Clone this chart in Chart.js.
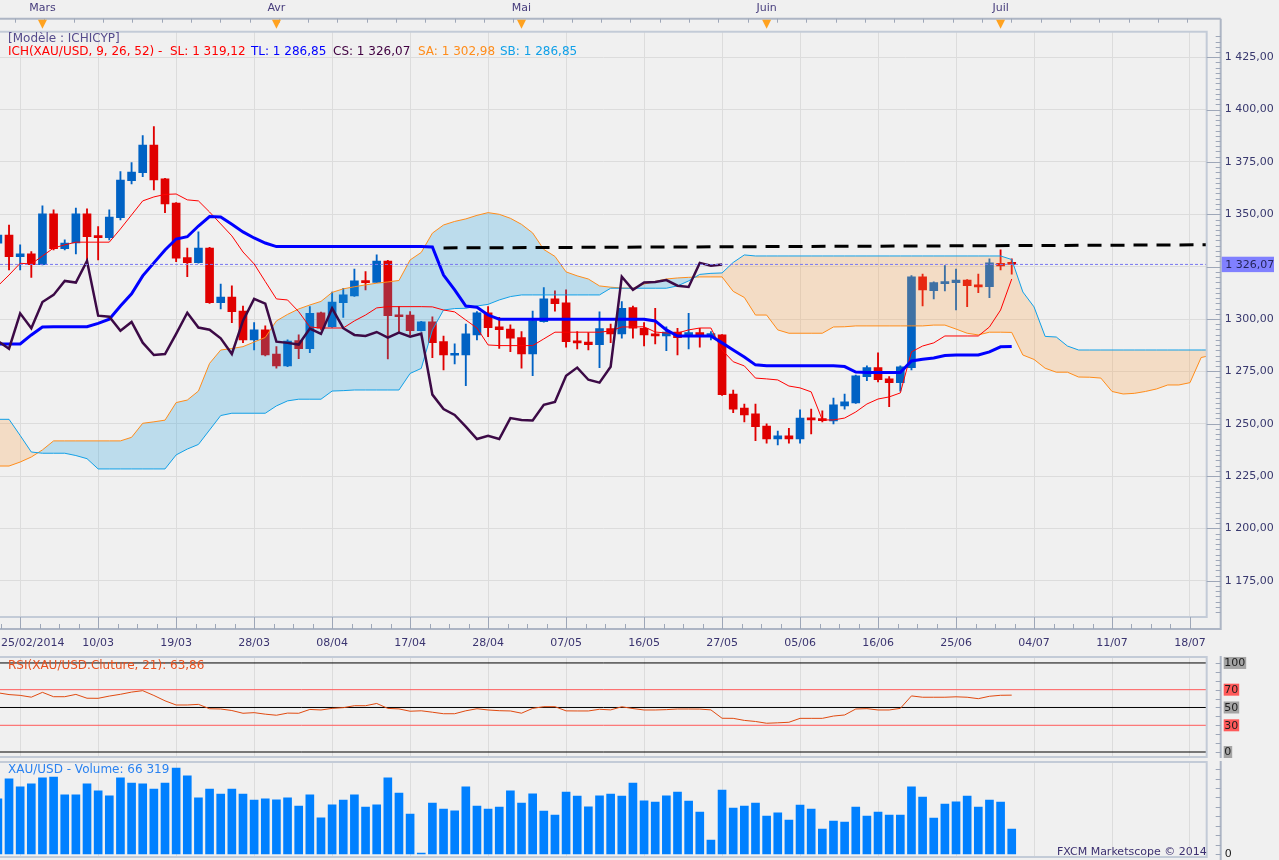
<!DOCTYPE html>
<html><head><meta charset="utf-8">
<script src="https://cdn.jsdelivr.net/npm/chart.js@4.4.1/dist/chart.umd.min.js"></script>
<style>
html,body{margin:0;padding:0;background:#f0f0f0;width:1279px;height:860px;overflow:hidden}
canvas{position:absolute;left:0}
</style></head><body>
<canvas id="main" style="top:0;width:1279px;height:655px" width="1279" height="655"></canvas>
<canvas id="rsi" style="top:655px;width:1279px;height:104px" width="1279" height="104"></canvas>
<canvas id="vol" style="top:759px;width:1279px;height:101px" width="1279" height="101"></canvas>
<script>
// ---------- data (bar index 0 = 25/02/2014, 91 = 02/07/2014) ----------
const dateIdx = [0, 9, 16, 23, 30, 37, 44, 51, 58, 65, 72, 79, 86, 93, 100, 107];
const dateLabels = ['25/02/2014','10/03','19/03','28/03','08/04','17/04','28/04','07/05','16/05','27/05','05/06','16/06','25/06','04/07','11/07','18/07'];
const gridIdx = [2, 9, 16, 23, 30, 37, 44, 51, 58, 65, 72, 79, 86, 93, 100, 107];
const monthIdx = [4, 25, 47, 69, 90];
const monthLabels = ['Mars', 'Avr', 'Mai', 'Juin', 'Juil'];

const opens = [1336.2,1340.1,1329.8,1331.1,1326.0,1350.2,1333.6,1336.3,1350.2,1339.8,
 1338.8,1348.4,1366.1,1369.9,1383.1,1366.9,1355.4,1329.3,1326.9,1333.9,
 1307.8,1310.5,1303.8,1290.0,1294.8,1283.3,1277.6,1289.7,1285.8,1303.0,
 1296.3,1307.8,1311.0,1318.3,1317.5,1327.7,1301.9,1301.9,1294.4,1298.6,
 1289.2,1282.7,1282.8,1292.4,1303.0,1296.3,1295.2,1291.1,1283.3,1298.7,
 1309.6,1307.7,1289.5,1289.0,1287.8,1295.4,1292.9,1305.4,1295.6,1292.9,
 1291.9,1293.8,1291.9,1293.5,1291.6,1292.4,1264.2,1257.5,1254.7,1248.9,
 1242.7,1244.2,1242.7,1252.7,1252.4,1251.3,1258.5,1259.9,1272.5,1276.8,
 1271.4,1269.6,1276.8,1320.1,1313.5,1316.9,1317.4,1318.6,1316.3,1315.4,
 1326.6,1326.6];
const highs = [1342.0,1344.9,1335.4,1332.2,1354.0,1352.1,1337.8,1353.0,1352.6,1344.1,
 1352.1,1370.4,1374.7,1387.6,1391.9,1367.2,1355.6,1333.9,1341.6,1334.2,
 1316.7,1315.8,1306.2,1298.3,1296.7,1286.8,1290.0,1292.4,1305.9,1303.3,
 1312.9,1314.7,1323.9,1322.6,1330.6,1328.0,1305.9,1303.5,1298.9,1301.0,
 1291.9,1288.1,1297.6,1303.5,1305.9,1300.8,1297.2,1294.0,1303.8,1315.0,
 1313.4,1313.9,1294.0,1293.5,1303.4,1297.6,1308.3,1306.2,1298.3,1305.1,
 1296.3,1295.6,1302.7,1295.6,1294.0,1292.6,1266.1,1259.4,1259.4,1249.9,
 1246.5,1247.8,1256.6,1257.0,1256.1,1262.2,1264.2,1273.2,1277.6,1283.9,
 1272.5,1277.6,1320.7,1321.5,1317.8,1325.5,1323.9,1318.8,1321.5,1328.7,
 1333.0,1328.7];
const lows = [1333.5,1323.4,1323.4,1319.9,1325.8,1333.0,1333.0,1331.1,1327.4,1328.2,
 1337.8,1347.3,1364.5,1368.0,1361.6,1350.8,1327.4,1320.2,1326.7,1307.5,
 1304.8,1298.3,1288.7,1285.2,1282.4,1276.5,1277.3,1281.1,1283.9,1294.8,
 1296.0,1300.8,1310.8,1313.9,1317.3,1280.9,1293.2,1292.4,1294.2,1281.5,
 1275.7,1278.5,1268.2,1290.0,1291.6,1286.0,1284.4,1276.5,1272.9,1298.5,
 1303.8,1286.5,1285.7,1285.2,1276.8,1288.7,1290.8,1290.8,1287.1,1288.1,
 1284.9,1282.8,1285.7,1286.5,1290.0,1263.5,1255.3,1250.8,1241.9,1240.7,
 1239.9,1240.7,1240.7,1245.1,1250.8,1249.9,1257.0,1259.7,1270.6,1269.9,
 1258.1,1265.6,1275.7,1306.2,1309.6,1313.4,1304.3,1305.9,1312.6,1310.2,
 1323.4,1321.4];
const closes = [1340.1,1329.8,1331.1,1326.0,1350.2,1333.6,1336.3,1350.2,1339.3,1338.8,
 1348.7,1366.4,1370.2,1383.1,1366.4,1354.9,1329.0,1326.9,1333.9,1307.8,
 1310.5,1303.5,1290.0,1294.8,1282.8,1277.6,1289.5,1285.8,1302.7,1295.6,
 1308.1,1311.5,1318.2,1317.4,1327.7,1301.6,1301.1,1294.4,1298.6,1288.7,
 1282.8,1283.3,1292.9,1303.0,1295.9,1294.9,1290.8,1283.3,1299.2,1309.6,
 1307.3,1289.2,1288.6,1287.8,1295.4,1292.9,1305.1,1295.6,1292.4,1291.9,
 1293.8,1291.1,1293.5,1291.6,1293.0,1263.9,1257.0,1254.2,1248.6,1242.7,
 1244.2,1242.7,1252.7,1251.8,1251.5,1259.0,1260.4,1272.9,1276.8,1271.0,
 1269.6,1277.2,1320.2,1313.9,1317.4,1317.7,1318.6,1315.9,1315.3,1326.8,
 1325.4,1326.07];
const tenkan = [1315.8,1321.0,1326.6,1326.3,1330.1,1333.9,1335.4,1336.7,1336.7,1336.7,
 1336.7,1343.0,1349.7,1356.4,1358.3,1359.5,1359.7,1356.9,1356.4,1351.1,
 1345.4,1339.7,1332.0,1326.3,1317.9,1309.6,1309.1,1303.5,1296.2,1295.7,
 1295.7,1295.7,1299.1,1301.9,1305.3,1305.9,1305.9,1305.9,1305.9,1305.8,
 1304.3,1303.4,1299.5,1295.7,1287.6,1287.3,1287.3,1287.3,1287.3,1290.5,
 1293.7,1293.7,1293.7,1293.7,1293.7,1294.3,1296.2,1296.2,1296.3,1293.8,
 1293.3,1293.3,1294.8,1295.7,1295.7,1285.2,1279.6,1277.6,1271.8,1271.4,
 1270.9,1268.0,1267.1,1265.2,1251.8,1251.8,1252.7,1255.6,1259.4,1261.8,
 1262.8,1264.7,1284.3,1287.1,1288.6,1291.9,1291.9,1291.9,1291.9,1296.2,
 1304.3,1319.12];
const kijun = [1288.1,1288.1,1288.1,1292.4,1296.2,1296.3,1296.3,1296.3,1296.3,1297.9,
 1299.9,1306.2,1312.0,1320.6,1326.8,1333.0,1338.2,1339.3,1344.4,1348.9,
 1348.7,1345.2,1341.6,1338.7,1336.3,1334.6,1334.6,1334.6,1334.6,1334.6,
 1334.6,1334.6,1334.6,1334.6,1334.6,1334.6,1334.6,1334.6,1334.6,1334.4,
 1321.0,1313.9,1306.2,1305.6,1301.9,1299.9,1299.9,1299.9,1299.9,1299.9,
 1299.9,1299.9,1299.9,1299.9,1299.9,1299.9,1299.9,1299.9,1299.9,1299.1,
 1294.8,1291.9,1291.9,1291.9,1291.9,1288.6,1285.2,1281.9,1278.1,1277.7,
 1277.7,1277.7,1277.7,1277.7,1277.7,1277.7,1277.3,1274.7,1274.4,1274.4,
 1274.4,1274.4,1280.0,1280.8,1281.4,1282.6,1282.8,1282.8,1282.8,1284.3,
 1286.7,1286.85];
const senkouA = [1229.8,1229.8,1231.7,1234.1,1237.5,1241.8,1241.8,1241.8,1241.8,1241.8,
 1241.8,1241.8,1243.5,1250.2,1250.9,1251.7,1260.1,1261.3,1265.6,1278.8,
 1285.2,1285.9,1286.8,1289.0,1291.2,1299.1,1302.2,1304.8,1306.7,1308.4,
 1312.7,1314.4,1315.4,1316.3,1317.1,1317.7,1318.4,1328.2,1331.8,1341.0,
 1344.9,1346.6,1347.8,1349.5,1350.8,1350.0,1348.1,1345.2,1341.1,1333.2,
 1329.9,1322.5,1320.6,1319.1,1315.8,1315.2,1314.8,1314.7,1316.7,1317.9,
 1319.1,1319.6,1319.9,1320.1,1320.1,1320.1,1313.2,1310.3,1301.9,1301.9,
 1294.8,1293.2,1293.2,1293.2,1293.2,1296.2,1296.3,1296.7,1296.7,1296.7,
 1296.7,1296.7,1296.7,1296.7,1297.1,1297.1,1295.2,1293.2,1292.4,1293.7,
 1293.7,1293.6,1282.8,1280.7,1276.5,1274.6,1274.6,1272.3,1272.2,1271.8,
 1265.4,1264.2,1264.5,1265.4,1266.6,1268.5,1268.5,1269.6,1281.6,1282.8];
const senkouB = [1252.1,1252.1,1244.4,1236.5,1235.9,1235.9,1235.9,1234.8,1233.3,1228.4,
 1228.4,1228.4,1228.4,1228.4,1228.4,1228.4,1235.1,1237.9,1240.1,1247.0,
 1253.9,1255.0,1255.0,1255.0,1255.0,1258.5,1260.9,1261.7,1261.7,1261.7,
 1265.6,1265.8,1266.1,1266.1,1266.1,1266.1,1266.1,1274.0,1276.4,1294.8,
 1304.3,1305.0,1305.1,1306.2,1307.0,1309.1,1310.7,1311.5,1311.5,1311.5,
 1311.5,1311.5,1311.5,1311.5,1311.5,1314.7,1314.7,1314.7,1314.7,1314.7,
 1314.7,1315.8,1318.2,1321.3,1321.8,1322.0,1327.0,1330.6,1330.1,1330.1,
 1330.1,1330.1,1330.1,1330.1,1330.1,1330.1,1330.1,1330.1,1330.1,1330.1,
 1330.1,1330.1,1330.1,1330.1,1330.1,1330.1,1330.1,1330.1,1330.1,1330.1,
 1330.1,1328.4,1312.9,1305.8,1291.7,1291.4,1287.1,1285.2,1285.2,1285.2,
 1285.2,1285.2,1285.2,1285.2,1285.2,1285.2,1285.2,1285.2,1285.2,1285.2];
const trendLine = [[40, 1333.95], [109, 1335.45]];
const rsi = [66.5,64.5,63.6,61.6,67.0,62.1,62.1,64.7,60.4,60.3,
 62.8,64.8,67.3,68.9,63.5,57.5,52.8,52.8,53.5,48.6,
 48.3,46.6,43.5,44.2,42.5,41.3,43.7,43.5,47.8,47.2,
 49.0,49.8,52.0,52.0,54.5,49.0,48.4,45.8,46.3,44.7,
 43.0,43.0,46.3,48.6,47.2,46.4,46.1,43.6,49.0,50.9,
 50.9,46.2,46.1,46.1,48.0,47.3,50.8,48.8,47.2,47.2,
 47.6,48.3,48.3,48.2,47.3,37.9,37.8,35.5,34.3,32.3,
 32.8,33.4,37.8,37.8,37.8,40.4,41.6,48.3,48.7,47.2,
 47.2,49.0,63.0,61.5,61.5,61.5,62.0,61.5,59.9,62.6,
 63.7,63.86];
const rsiLevels = [100, 70, 50, 30, 0];
const volumes = [146200,199100,178300,186400,202100,204300,157200,156800,186100,167400,
 154300,202400,188200,185900,172300,188400,228100,207300,148900,172100,
 159200,172400,158800,143200,146100,143400,148700,127300,156900,95800,
 130200,143300,157100,124800,130400,202300,161800,106200,2500,135300,
 119400,114200,177900,127400,119200,124700,167300,135100,159300,114100,
 103400,164200,153800,124900,154200,159100,153900,188300,140800,137900,
 154100,164300,140700,111300,37200,169800,122100,127400,135200,100800,
 108900,90200,130100,119300,66400,87600,84900,124800,100700,111400,
 103200,103300,178100,151200,95600,132700,138100,153800,124600,143300,
 137900,66319];

// ---------- helpers ----------
Chart.defaults.font.family = "'DejaVu Sans', sans-serif";
Chart.defaults.font.size = 11;
Chart.defaults.animation = false;
const X_MIN = 0.19, X_MAX = 108.5, AXIS_W = 72.3;
const last = closes.length - 1;
const lastClose = closes[last];
const FONT11 = "11px 'DejaVu Sans'", FONT12 = "12px 'DejaVu Sans'";
function fmt(v) { const s = v.toFixed(2).split('.'); return s[0].replace(/\B(?=(\d{3})+(?!\d))/g, ' ') + ',' + s[1]; }
function fmtInt(v) { return String(Math.round(v)).replace(/\B(?=(\d{3})+(?!\d))/g, ' '); }
const idx = closes.map((_, i) => i);
const UP = '#0062c4', DN = '#e00000';
const candleColors = idx.map(i => closes[i] >= opens[i] ? UP : DN);

function xScale() {
  return {
    type: 'linear', min: X_MIN, max: X_MAX, offset: false,
    grid: { color: '#dcdcdc', lineWidth: 1, drawTicks: false, offset: false },
    border: { display: false },
    ticks: { display: false },
    afterBuildTicks: s => { s.ticks = gridIdx.map(v => ({ value: v })); },
    afterFit: s => { s.height = 0; s.paddingLeft = 0; s.paddingRight = 0; }
  };
}
function bgFill(c) { const { ctx, width, height } = c; ctx.save(); ctx.fillStyle = '#f0f0f0'; ctx.fillRect(0, 0, width, height); ctx.restore(); }
function drawFrame(ctx, ca) {
  ctx.strokeStyle = '#c3cbd7'; ctx.lineWidth = 2;
  ctx.beginPath();
  ctx.moveTo(0, ca.top); ctx.lineTo(ca.right, ca.top); ctx.lineTo(ca.right, ca.bottom); ctx.lineTo(0, ca.bottom);
  ctx.stroke();
}

// ---------- main panel ----------
const mainDeco = {
  id: 'mainDeco',
  beforeDraw: bgFill,
  afterDraw(c) {
    const { ctx, chartArea: ca, scales: { x, y } } = c;
    const ax = ca.right + 14, bandTop = ca.top - 13, dateLine = ca.bottom + 12;
    ctx.save();
    drawFrame(ctx, ca);
    ctx.strokeStyle = '#adb5c4'; ctx.lineWidth = 2;
    ctx.beginPath();
    ctx.moveTo(0, bandTop); ctx.lineTo(ax, bandTop);
    ctx.moveTo(ax, bandTop); ctx.lineTo(ax, dateLine);
    ctx.moveTo(0, dateLine); ctx.lineTo(ax + 1, dateLine);
    ctx.stroke();
    // price ticks
    ctx.lineWidth = 1; ctx.strokeStyle = '#9ea7b8';
    ctx.beginPath();
    for (let p = 1160; p <= 1437.5; p += 2.5) {
      const py = Math.round(y.getPixelForValue(p)) + 0.5;
      if (py < ca.top + 2 || py > ca.bottom + 10) continue;
      const major = (p % 25) === 0;
      ctx.moveTo(major ? ca.right : ax - 5, py); ctx.lineTo(ax, py);
    }
    // date ticks
    gridIdx.forEach(g => {
      const px = Math.round(x.getPixelForValue(g)) + 0.5;
      ctx.moveTo(px, ca.bottom); ctx.lineTo(px, dateLine);
      for (let q = -3; q < 4; q++) {
        if (q === 0) continue;
        if (q < 0 && g !== gridIdx[0]) continue;
        const pq = Math.round(x.getPixelForValue(g + 7 * q / 4)) + 0.5;
        if (pq > 0 && pq < ca.right) { ctx.moveTo(pq, dateLine - 5); ctx.lineTo(pq, dateLine); }
      }
    });
    // month band ticks
    for (let v = 1.55; v < X_MAX; v += 2.63) {
      const px = Math.round(x.getPixelForValue(v)) + 0.5;
      if (px > ca.right) break;
      ctx.moveTo(px, bandTop); ctx.lineTo(px, bandTop + 4);
    }
    ctx.stroke();
    // month markers
    ctx.font = FONT11; ctx.textBaseline = 'middle';
    monthIdx.forEach((m, k) => {
      const px = x.getPixelForValue(m);
      ctx.fillStyle = '#ffa21f';
      ctx.beginPath(); ctx.moveTo(px - 4.5, bandTop + 1); ctx.lineTo(px + 4.5, bandTop + 1); ctx.lineTo(px, bandTop + 10); ctx.closePath(); ctx.fill();
      ctx.fillStyle = '#463c7c'; ctx.textAlign = 'center';
      ctx.fillText(monthLabels[k], px, 8);
    });
    // date labels
    ctx.fillStyle = '#3a3470'; ctx.textAlign = 'left';
    dateIdx.forEach((d, k) => {
      const t = dateLabels[k]; const w = ctx.measureText(t).width;
      let l = x.getPixelForValue(d) - w / 2; if (l < 1) l = 1;
      ctx.fillText(t, l, ca.bottom + 26);
    });
    // current price box
    const cy = y.getPixelForValue(lastClose);
    ctx.fillStyle = '#8080ff'; ctx.fillRect(ax + 1, cy - 7.7, 52.3, 15.4);
    ctx.fillStyle = '#24245a'; ctx.fillText(fmt(lastClose), ax + 4.5, cy + 0.5);
    // titles
    ctx.font = FONT12;
    ctx.fillStyle = '#554b8c'; ctx.fillText('[Modèle : ICHICYP]', 8, 38.5);
    const parts = [
      ['ICH(XAU/USD, 9, 26, 52) -', '#ff0000', 8],
      ['SL: ' + fmt(tenkan[last]), '#ff0000', 170],
      ['TL: ' + fmt(kijun[last]), '#0000ff', 251],
      ['CS: ' + fmt(lastClose), '#400040', 333],
      ['SA: 1 302,98', '#ff8c1a', 418],
      ['SB: 1 286,85', '#10a0e8', 500]
    ];
    parts.forEach(([t, col, px]) => { ctx.fillStyle = col; ctx.fillText(t, px, 52); });
    ctx.restore();
  }
};

const lineDs = (data, color, width, order, extra) => Object.assign({
  type: 'line', data, borderColor: color, borderWidth: width, pointRadius: 0, fill: false, order, tension: 0
}, extra || {});

new Chart(document.getElementById('main'), {
  type: 'bar',
  data: {
    datasets: [
      { type: 'bar', label: 'wick', data: idx.map(i => ({ x: i, y: [lows[i], highs[i]] })), backgroundColor: candleColors,
        grouped: false, maxBarThickness: 1.2, barPercentage: 1, categoryPercentage: 1, order: 10 },
      { type: 'bar', label: 'body', data: idx.map(i => ({ x: i, y: [opens[i], closes[i]] })), backgroundColor: candleColors,
        grouped: false, maxBarThickness: 8, barPercentage: 1, categoryPercentage: 1, minBarLength: 2, order: 9 },
      lineDs(senkouA.map((v, i) => ({ x: i, y: v })), '#ff8c1a', 1, 5,
        { fill: { target: 3, above: 'rgba(32,160,224,0.25)', below: 'rgba(252,160,68,0.25)' } }),
      lineDs(senkouB.map((v, i) => ({ x: i, y: v })), '#10a0e8', 1, 4),
      lineDs(tenkan.map((v, i) => ({ x: i, y: v })), '#ff0000', 1, 3),
      lineDs(kijun.map((v, i) => ({ x: i, y: v })), '#0000ff', 3, 2),
      lineDs(closes.slice(26).map((v, i) => ({ x: i, y: v })), '#3c0a46', 2.5, 1),
      lineDs([{ x: X_MIN, y: lastClose }, { x: X_MAX, y: lastClose }], '#7878f0', 1, 0, { borderDash: [3, 2] }),
      lineDs(trendLine.map(p => ({ x: p[0], y: p[1] })), '#000000', 3, 0, { borderDash: [14, 9] })
    ]
  },
  options: {
    responsive: false, animation: false,
    layout: { padding: { top: 31.7, bottom: 38, left: 0, right: 0 } },
    plugins: { legend: { display: false }, tooltip: { enabled: false }, title: { display: false } },
    scales: {
      x: xScale(),
      y: {
        type: 'linear', position: 'right', min: 1157.7, max: 1437.2,
        grid: { color: '#dcdcdc', drawTicks: false },
        border: { display: false },
        ticks: { stepSize: 25, includeBounds: false, padding: 18, color: '#38386e', font: { size: 11 },
          callback: v => Math.abs(v - lastClose) < 4 ? '' : fmt(v) },
        afterFit: s => { s.width = AXIS_W; s.paddingTop = 0; s.paddingBottom = 0; }
      }
    }
  },
  plugins: [mainDeco]
});

// ---------- RSI panel ----------
const rsiDeco = {
  id: 'rsiDeco',
  beforeDraw: bgFill,
  afterDraw(c) {
    const { ctx, chartArea: ca, scales: { y } } = c;
    const ax = ca.right + 14;
    ctx.save();
    drawFrame(ctx, ca);
    ctx.strokeStyle = '#adb5c4'; ctx.lineWidth = 2;
    ctx.beginPath(); ctx.moveTo(ax, ca.top - 1); ctx.lineTo(ax, ca.bottom + 1); ctx.stroke();
    ctx.lineWidth = 1; ctx.strokeStyle = '#9ea7b8'; ctx.beginPath();
    for (let v = 0; v <= 100; v += 10) { const py = Math.round(y.getPixelForValue(v)) + 0.5; ctx.moveTo(ax - 5, py); ctx.lineTo(ax, py); }
    ctx.stroke();
    ctx.font = FONT11; ctx.textBaseline = 'middle'; ctx.textAlign = 'left';
    rsiLevels.forEach(lv => {
      const py = y.getPixelForValue(lv); const t = String(lv); const w = ctx.measureText(t).width;
      ctx.fillStyle = (lv === 70 || lv === 30) ? '#ff5a5a' : '#a4a4a4';
      ctx.fillRect(ax + 3, py - 6, w + 1.5, 12);
      ctx.fillStyle = '#1e1e1e'; ctx.fillText(t, ax + 3.5, py + 0.5);
    });
    ctx.font = FONT12; ctx.fillStyle = '#e8501e';
    ctx.fillText('RSI(XAU/USD.Cluture, 21): ' + rsi[last].toFixed(2).replace('.', ','), 8, ca.top + 8.5);
    ctx.restore();
  }
};
new Chart(document.getElementById('rsi'), {
  type: 'line',
  data: {
    datasets: rsiLevels.map(lv => lineDs([{ x: X_MIN, y: lv }, { x: X_MAX, y: lv }],
      (lv === 70 || lv === 30) ? '#ff5a5a' : '#000000', 1, 2))
      .concat([lineDs(rsi.map((v, i) => ({ x: i, y: v })), '#e04a10', 1, 0)])
  },
  options: {
    responsive: false, animation: false,
    layout: { padding: { top: 2, bottom: 2, left: 0, right: 0 } },
    plugins: { legend: { display: false }, tooltip: { enabled: false } },
    scales: {
      x: xScale(),
      y: { type: 'linear', position: 'right', min: -5.6, max: 106.7,
        grid: { display: false }, border: { display: false }, ticks: { display: false },
        afterFit: s => { s.width = AXIS_W; s.paddingTop = 0; s.paddingBottom = 0; } }
    }
  },
  plugins: [rsiDeco]
});

// ---------- Volume panel ----------
const volDeco = {
  id: 'volDeco',
  beforeDraw: bgFill,
  afterDraw(c) {
    const { ctx, chartArea: ca, scales: { y } } = c;
    const ax = ca.right + 14;
    ctx.save();
    drawFrame(ctx, ca);
    ctx.strokeStyle = '#adb5c4'; ctx.lineWidth = 2;
    ctx.beginPath(); ctx.moveTo(ax, ca.top - 1); ctx.lineTo(ax, c.height); ctx.stroke();
    ctx.lineWidth = 1; ctx.strokeStyle = '#9ea7b8'; ctx.beginPath();
    for (let v = 0; v <= 240000; v += 25000) { const py = Math.round(y.getPixelForValue(v)) + 0.5; ctx.moveTo(ax - 5, py); ctx.lineTo(ax, py); }
    ctx.stroke();
    ctx.font = FONT11; ctx.textBaseline = 'middle'; ctx.textAlign = 'left'; ctx.fillStyle = '#1e1e1e';
    ctx.fillText('0', ax + 4, y.getPixelForValue(0) + 0.5);
    ctx.fillStyle = '#3c3070'; ctx.textAlign = 'right';
    ctx.fillText('FXCM Marketscope © 2014', ca.right, ca.bottom - 5);
    ctx.font = FONT12; ctx.fillStyle = '#2a82f0'; ctx.textAlign = 'left';
    ctx.fillText('XAU/USD - Volume: ' + fmtInt(volumes[last]), 8, ca.top + 8);
    ctx.restore();
  }
};
new Chart(document.getElementById('vol'), {
  type: 'bar',
  data: { datasets: [{ label: 'Volume', data: volumes.map((v, i) => ({ x: i, y: v })), backgroundColor: '#0080ff',
    grouped: false, maxBarThickness: 8, barPercentage: 1, categoryPercentage: 1 }] },
  options: {
    responsive: false, animation: false,
    layout: { padding: { top: 3, bottom: 3, left: 0, right: 0 } },
    plugins: { legend: { display: false }, tooltip: { enabled: false } },
    scales: {
      x: xScale(),
      y: { type: 'linear', position: 'right', min: -7959, max: 244076,
        grid: { display: false }, border: { display: false }, ticks: { display: false },
        afterFit: s => { s.width = AXIS_W; s.paddingTop = 0; s.paddingBottom = 0; } }
    }
  },
  plugins: [volDeco]
});
</script>
</body></html>
